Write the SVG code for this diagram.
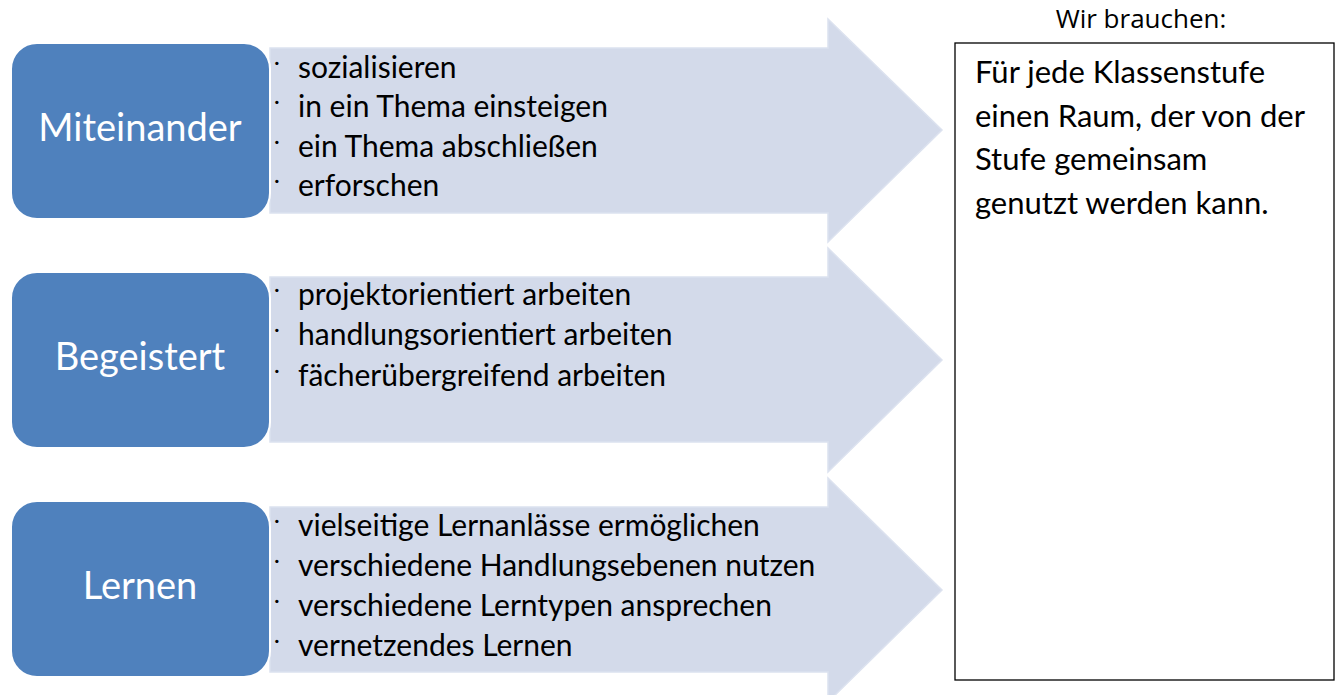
<svg xmlns="http://www.w3.org/2000/svg" width="1338" height="695" viewBox="0 0 1338 695">
<style>
.arrow{fill:#D3DAEA;stroke:#DCE2EF;stroke-width:1.5}
.node{fill:#4F81BD;stroke:#FFFFFF;stroke-width:2}
.lbl{font-family:Lato,"Open Sans",sans-serif;font-size:38px;fill:#FFFFFF;text-anchor:middle}
.item{font-family:Lato,"Open Sans",sans-serif;font-size:30px;fill:#000000}
.boxt{font-family:Lato,"Open Sans",sans-serif;font-size:31px;fill:#000000}
.bul{font-family:Lato,"Open Sans",sans-serif;font-size:22px;fill:#000000}
.head{font-family:"Open Sans","Liberation Sans",sans-serif;font-size:26px;fill:#000000;text-anchor:middle}
</style>
<rect width="1338" height="695" fill="#FFFFFF"/>
<g id="connectors">
<path class="arrow" d="M270,507 H828 V478 L942,590 L828,702 V672 H270 Z"/>
<path class="arrow" d="M270,277 H828 V248 L942,360 L828,472 V442 H270 Z"/>
<path class="arrow" d="M270,48 H828 V19 L942,130 L828,242 V213 H270 Z"/>
</g>
<g id="list-miteinander">
<text class="bul" x="274" y="70">·</text><text class="item" x="298" y="78">sozialisieren</text>
<text class="bul" x="274" y="109">·</text><text class="item" x="298" y="117">in ein Thema einsteigen</text>
<text class="bul" x="274" y="149">·</text><text class="item" x="298" y="157">ein Thema abschließen</text>
<text class="bul" x="274" y="188">·</text><text class="item" x="298" y="196">erforschen</text>
</g>
<g id="list-begeistert">
<text class="bul" x="274" y="297">·</text><text class="item" x="298" y="305">projektorientiert arbeiten</text>
<text class="bul" x="274" y="337">·</text><text class="item" x="298" y="345">handlungsorientiert arbeiten</text>
<text class="bul" x="274" y="378">·</text><text class="item" x="298" y="386">fächerübergreifend arbeiten</text>
</g>
<g id="list-lernen">
<text class="bul" x="274" y="528">·</text><text class="item" x="298" y="536">vielseitige Lernanlässe ermöglichen</text>
<text class="bul" x="274" y="568">·</text><text class="item" x="298" y="576">verschiedene Handlungsebenen nutzen</text>
<text class="bul" x="274" y="608">·</text><text class="item" x="298" y="616">verschiedene Lerntypen ansprechen</text>
<text class="bul" x="274" y="648">·</text><text class="item" x="298" y="656">vernetzendes Lernen</text>
</g>
<g id="node-miteinander">
<rect class="node" x="11" y="43" width="259" height="176" rx="26"/>
<text class="lbl" x="140" y="141">Miteinander</text>
</g>
<g id="node-begeistert">
<rect class="node" x="11" y="272" width="259" height="176" rx="26"/>
<text class="lbl" x="140" y="370">Begeistert</text>
</g>
<g id="node-lernen">
<rect class="node" x="11" y="501" width="259" height="176" rx="26"/>
<text class="lbl" x="140" y="599">Lernen</text>
</g>
<g id="box-wir-brauchen">
<text class="head" x="1141" y="28">Wir brauchen:</text>
<rect x="955" y="43" width="379" height="637" fill="#FFFFFF" stroke="#000000" stroke-width="1.3"/>
<text class="boxt" x="975" y="83">Für jede Klassenstufe</text>
<text class="boxt" x="975" y="127">einen Raum, der von der</text>
<text class="boxt" x="975" y="170">Stufe gemeinsam</text>
<text class="boxt" x="975" y="214">genutzt werden kann.</text>
</g>
</svg>
